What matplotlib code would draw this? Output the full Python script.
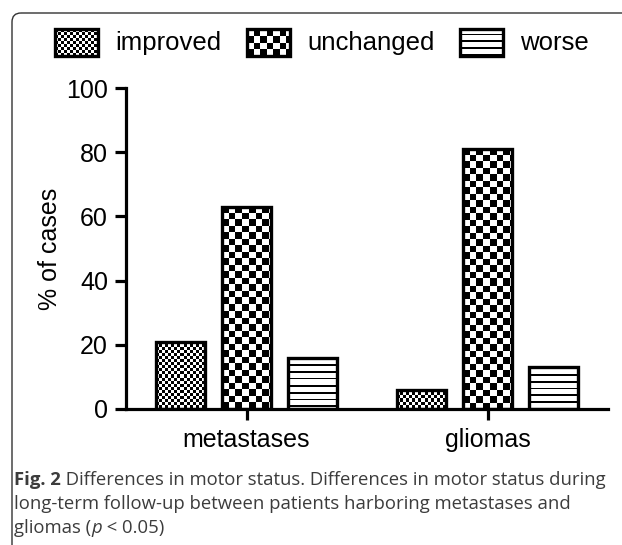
"""
Motor status at long-term follow-up: metastases vs gliomas (grouped bars).
"""

import numpy as np
import matplotlib
matplotlib.use("Agg")
import matplotlib.pyplot as plt
from matplotlib.patches import Rectangle, FancyBboxPatch


# =============================================================================
# DATA
# =============================================================================

GROUPS = ["metastases", "gliomas"]
SERIES = ["improved", "unchanged", "worse"]

improved = [21, 6]
unchanged = [63, 81]
worse = [16, 13]

Y_TICKS = [0, 20, 40, 60, 80, 100]

CAPTION_BOLD = "Fig. 2"
CAPTION_1 = " Differences in motor status. Differences in motor status during"
CAPTION_2 = "long-term follow-up between patients harboring metastases and"
CAPTION_3A = "gliomas ("
CAPTION_3B = "p"
CAPTION_3C = " < 0.05)"

# texture per series: (kind, cell size in px)
TEXTURES = {
    "improved": ("checker", 3),
    "unchanged": ("checker", 6.5),
    "worse": ("stripes", 6.7),
}

W, H, DPI = 622, 545, 100
FONT = "Liberation Sans"


# =============================================================================
# HELPERS
# =============================================================================

def texture(ax, x0, y0, w, h, kind, cell, zorder=2):
    """Fill a rectangle (data coords of ax) with a black/white pixel texture."""
    p0 = ax.transData.transform((x0, y0))
    p1 = ax.transData.transform((x0 + w, y0 + h))
    w_px = max(int(round(abs(p1[0] - p0[0]))), 1)
    h_px = max(int(round(abs(p1[1] - p0[1]))), 1)
    jj, ii = np.meshgrid(np.arange(w_px), np.arange(h_px))
    if kind == "checker":
        img = ((np.floor(ii / cell) + np.floor(jj / cell)) % 2).astype(float)
    else:
        img = ((ii % cell) < 1.6).astype(float)
        img = 1 - img
    ax.imshow(img, cmap="gray", vmin=0, vmax=1, interpolation="nearest",
              extent=(x0, x0 + w, y0, y0 + h), origin="upper",
              aspect="auto", zorder=zorder)


# =============================================================================
# FIGURE
# =============================================================================

plt.rcParams["font.family"] = [FONT, "DejaVu Sans"]

fig = plt.figure(figsize=(W / DPI, H / DPI), dpi=DPI)

# overlay in pixel coordinates for frame, legend and caption
over = fig.add_axes([0, 0, 1, 1])
over.set_xlim(0, W)
over.set_ylim(H, 0)
over.axis("off")

ax = fig.add_axes([126 / W, 1 - 409 / H, (608 - 126) / W, (409 - 88) / H])
ax.set_facecolor("none")
ax.set_xlim(-0.5, 1.5)
ax.set_ylim(0, 100)

values = {"improved": improved, "unchanged": unchanged, "worse": worse}
x = np.arange(len(GROUPS))
bar_w = 0.2
step = 0.274

for k, name in enumerate(SERIES):
    bars = ax.bar(x + (k - 1) * step, values[name], width=bar_w,
                  facecolor="none", edgecolor="black", linewidth=2.4,
                  zorder=3)
    kind, cell = TEXTURES[name]
    for b in bars:
        texture(ax, b.get_x(), b.get_y(), b.get_width(), b.get_height(),
                kind, cell)

ax.set_xlim(-0.5, 1.5)
ax.set_ylim(0, 100)
ax.set_xticks(x)
ax.set_xticklabels(GROUPS, fontsize=18)
ax.set_yticks(Y_TICKS)
ax.set_yticklabels([str(t) for t in Y_TICKS], fontsize=18)
ax.set_ylabel("% of cases", fontsize=18, labelpad=3)

for side in ["top", "right"]:
    ax.spines[side].set_visible(False)
for side in ["left", "bottom"]:
    ax.spines[side].set_linewidth(2.3)
ax.tick_params(axis="both", width=2.3, length=8, pad=5, direction="out")
ax.tick_params(axis="x", pad=6)

# frame with rounded corner
over.add_patch(FancyBboxPatch((12, 13), 700, 600,
                              boxstyle="round,pad=0,rounding_size=9",
                              fill=False, edgecolor="#333333", linewidth=1.0))

# legend
legend_x = {"improved": 55, "unchanged": 247, "worse": 460}
for name in SERIES:
    lx = legend_x[name]
    kind, cell = TEXTURES[name]
    texture(over, lx, 29, 43, 27, kind, cell)
    over.add_patch(Rectangle((lx, 29), 43, 27, fill=False,
                             edgecolor="black", linewidth=2.4, zorder=3))
    over.text(lx + 60, 43, name, fontsize=18.5, va="center", ha="left")

over.set_xlim(0, W)
over.set_ylim(H, 0)

# caption
cap_kw = dict(fontsize=13.3, color="#3c3c3c", family=["Open Sans", "DejaVu Sans"])
t1 = over.text(14, 485, CAPTION_BOLD, fontweight="bold", va="baseline", **cap_kw)
over.annotate(CAPTION_1, xy=(1, 0), xycoords=t1, va="bottom", ha="left", **cap_kw)
over.text(14, 509, CAPTION_2, va="baseline", **cap_kw)
t3 = over.text(14, 533, CAPTION_3A, va="baseline", **cap_kw)
t4 = over.annotate(CAPTION_3B, xy=(1, 0), xycoords=t3, va="bottom", ha="left",
                   fontstyle="italic", **cap_kw)
over.annotate(CAPTION_3C, xy=(1, 0), xycoords=t4, va="bottom", ha="left", **cap_kw)

fig.savefig("out.png", dpi=DPI)
